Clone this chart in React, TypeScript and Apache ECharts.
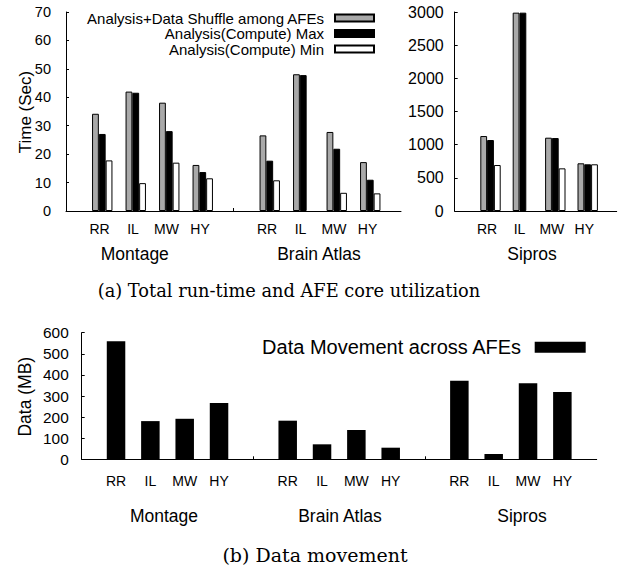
import React, { useEffect, useRef } from 'react';
import * as echarts from 'echarts';

// ---------- data ----------
const subCats = ['RR', 'IL', 'MW', 'HY'];
const legendNames = [
  'Analysis+Data Shuffle among AFEs',
  'Analysis(Compute) Max',
  'Analysis(Compute) Min',
];
const moveName = 'Data Movement across AFEs';

// (a) run time, seconds
const montageShuffle = [34.2, 42.0, 38.1, 16.2];
const montageMax = [27.1, 41.6, 28.1, 13.7];
const montageMin = [17.8, 9.8, 17.0, 11.5];
const brainShuffle = [26.6, 48.1, 27.8, 17.2];
const brainMax = [17.7, 47.8, 21.9, 11.0];
const brainMin = [10.8, null, 6.4, 6.2];
const siprosShuffle = [1130, 2990, 1105, 719];
const siprosMax = [1070, 2990, 1100, 704];
const siprosMin = [693, null, 643, 704];

// (b) data movement, MB
const moveMontage = [559, 181, 192, 267];
const moveBrain = [183, 71, 139, 55];
const moveSipros = [372, 25, 360, 319];

const timeTicks = { min: 0, max: 70, interval: 10 };
const siprosTicks = { min: 0, max: 3000, interval: 500 };
const moveTicks = { min: 0, max: 600, interval: 100 };

// ---------- helpers ----------
const SANS = '"Liberation Sans", Arial, sans-serif';
const SERIF = '"DejaVu Serif", serif';

const pad = (groups: (number | null)[][]) => {
  const out: (number | null)[] = [null];
  groups.forEach((g) => {
    out.push(...g);
    out.push(null);
  });
  return out;
};
const padCats = (n: number) => {
  const out: string[] = [''];
  for (let i = 0; i < n; i++) {
    out.push(...subCats);
    out.push('');
  }
  return out;
};

const catsA = padCats(2);
const catsS = padCats(1);
const catsB = padCats(3);

const grayStyle = { color: '#a9a9a9', borderColor: '#000', borderWidth: 1 };
const blackStyle = { color: '#000', borderColor: '#000', borderWidth: 1 };
const whiteStyle = { color: '#fff', borderColor: '#000', borderWidth: 1 };

function makeXAxis(gridIndex: number, data: string[], fontSize: number, margin: number) {
  return {
    type: 'category',
    gridIndex,
    data,
    boundaryGap: false,
    axisLine: { show: true, lineStyle: { color: '#000', width: 1 } },
    axisTick: {
      show: true,
      inside: true,
      length: 3,
      interval: (i: number) => i > 0 && i < data.length - 1 && data[i] === '',
      lineStyle: { color: '#000' },
    },
    axisLabel: { interval: 0, fontSize, margin, color: '#000', fontFamily: SANS },
    splitLine: { show: false },
  };
}

function makeYAxis(
  gridIndex: number,
  ticks: { min: number; max: number; interval: number },
  fontSize: number,
  margin: number
) {
  return {
    type: 'value',
    gridIndex,
    min: ticks.min,
    max: ticks.max,
    interval: ticks.interval,
    axisLine: { show: true, lineStyle: { color: '#000', width: 1 } },
    axisTick: { show: true, inside: true, length: 3, lineStyle: { color: '#000' } },
    axisLabel: {
      fontSize,
      margin,
      color: '#000',
      fontFamily: SANS,
      formatter: (v: number) => String(v),
    },
    splitLine: { show: false },
  };
}

function bar(name: string, data: (number | null)[], axis: number, width: number, style: any) {
  return {
    type: 'bar',
    name,
    data,
    xAxisIndex: axis,
    yAxisIndex: axis,
    barWidth: width,
    barGap: 0,
    itemStyle: style,
    silent: true,
  };
}

function label(text: string, x: number, y: number, fontSize: number, family: string, rotation = 0) {
  return {
    type: 'text',
    x,
    y,
    rotation,
    silent: true,
    style: {
      text,
      fontSize,
      fontFamily: family,
      fill: '#000',
      align: 'center',
      verticalAlign: 'middle',
    },
  };
}

export default function App() {
  const ref = useRef<HTMLDivElement>(null);

  useEffect(() => {
    if (!ref.current) return;
    const chart = echarts.init(ref.current, undefined, { renderer: 'svg' });
    const option: any = {
      animation: false,
      backgroundColor: '#fff',
      grid: [
        { left: 66, top: 12, width: 335, height: 199 },
        { left: 454.7, top: 12, width: 162, height: 199 },
        { left: 81.7, top: 332.7, width: 515, height: 126.6 },
      ],
      xAxis: [
        makeXAxis(0, catsA, 14, 11),
        makeXAxis(1, catsS, 14, 11),
        makeXAxis(2, catsB, 14, 15),
      ],
      yAxis: [
        makeYAxis(0, timeTicks, 14.5, 15),
        makeYAxis(1, siprosTicks, 16, 11),
        makeYAxis(2, moveTicks, 15.4, 13),
      ],
      legend: [
        {
          data: legendNames,
          orient: 'vertical',
          align: 'right',
          right: 252,
          top: 10.5,
          padding: 0,
          itemGap: 0.5,
          itemWidth: 39,
          itemHeight: 7,
          icon: 'rect',
          selectedMode: false,
          textStyle: {
            fontSize: 15,
            lineHeight: 15,
            color: '#000',
            fontFamily: SANS,
            padding: [0, 6, 0, 0],
          },
        },
        {
          data: [moveName],
          orient: 'vertical',
          align: 'right',
          right: 41.3,
          top: 337.3,
          padding: 0,
          itemWidth: 51,
          itemHeight: 11,
          icon: 'rect',
          selectedMode: false,
          textStyle: {
            fontSize: 20,
            lineHeight: 20,
            color: '#000',
            fontFamily: SANS,
            padding: [0, 8.6, 0, 0],
          },
        },
      ],
      series: [
        bar('__padA', catsA.map(() => null), 0, 5.5, { color: 'transparent' }),
        bar(legendNames[0], pad([montageShuffle, brainShuffle]), 0, 6.8, grayStyle),
        bar(legendNames[1], pad([montageMax, brainMax]), 0, 6.8, blackStyle),
        bar(legendNames[2], pad([montageMin, brainMin]), 0, 6.8, whiteStyle),
        bar('__padS', catsS.map(() => null), 1, 6.8, { color: 'transparent' }),
        bar(legendNames[0], pad([siprosShuffle]), 1, 6.8, grayStyle),
        bar(legendNames[1], pad([siprosMax]), 1, 6.8, blackStyle),
        bar(legendNames[2], pad([siprosMin]), 1, 6.8, whiteStyle),
        bar(moveName, pad([moveMontage, moveBrain, moveSipros]), 2, 18.5, { color: '#000' }),
      ],
      graphic: [
        label('Montage', 134.8, 254.3, 17.5, SANS),
        label('Brain Atlas', 319, 254.3, 17.5, SANS),
        label('Sipros', 532, 254.3, 17.5, SANS),
        label('Montage', 164, 515.7, 17.5, SANS),
        label('Brain Atlas', 340, 515.7, 17.5, SANS),
        label('Sipros', 522, 515.7, 17.5, SANS),
        label('Time (Sec)', 25, 112, 17, SANS, Math.PI / 2),
        label('Data (MB)', 25, 396.7, 17.5, SANS, Math.PI / 2),
        label('(a) Total run-time and AFE core utilization', 289, 290, 17.8, SERIF),
        label('(b) Data movement', 315, 555, 19, SERIF),
      ],
    };
    chart.setOption(option);
    return () => chart.dispose();
  }, []);

  return (
    <div
      ref={ref}
      style={{ position: 'fixed', left: 0, top: 0, width: 627, height: 568, background: '#fff' }}
    />
  );
}
